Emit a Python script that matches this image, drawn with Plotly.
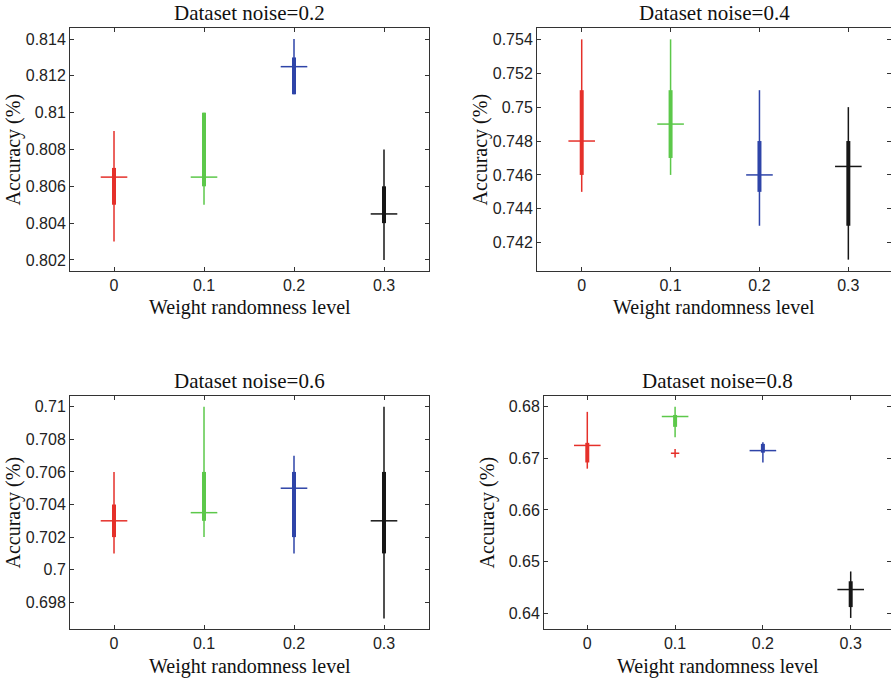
import plotly.graph_objects as go

# Weight randomness levels (x positions) and their labels
levels = [0, 0.1, 0.2, 0.3]
level_labels = ["0", "0.1", "0.2", "0.3"]
level_colors = ["#e5302a", "#5cc84a", "#2e44a8", "#161616"]

panel_titles = ["Dataset noise=0.2", "Dataset noise=0.4",
                "Dataset noise=0.6", "Dataset noise=0.8"]

# Dataset noise = 0.2
n02_lo = [0.803, 0.805, 0.811, 0.802]
n02_q1 = [0.805, 0.806, 0.811, 0.804]
n02_med = [0.8065, 0.8065, 0.8125, 0.8045]
n02_q3 = [0.807, 0.810, 0.813, 0.806]
n02_hi = [0.809, 0.810, 0.814, 0.808]

# Dataset noise = 0.4
n04_lo = [0.745, 0.746, 0.743, 0.741]
n04_q1 = [0.746, 0.747, 0.745, 0.743]
n04_med = [0.748, 0.749, 0.746, 0.7465]
n04_q3 = [0.751, 0.751, 0.748, 0.748]
n04_hi = [0.754, 0.754, 0.751, 0.750]

# Dataset noise = 0.6
n06_lo = [0.701, 0.702, 0.701, 0.697]
n06_q1 = [0.702, 0.703, 0.702, 0.701]
n06_med = [0.703, 0.7035, 0.705, 0.703]
n06_q3 = [0.704, 0.706, 0.706, 0.706]
n06_hi = [0.706, 0.710, 0.707, 0.710]

# Dataset noise = 0.8
n08_lo = [0.668, 0.6741, 0.6692, 0.6391]
n08_q1 = [0.6692, 0.6761, 0.6711, 0.6412]
n08_med = [0.6725, 0.6781, 0.6715, 0.6446]
n08_q3 = [0.673, 0.6784, 0.6728, 0.6462]
n08_hi = [0.679, 0.680, 0.6731, 0.6481]
n08_outlier_x = [0.1]
n08_outlier_y = [0.671]

# Y tick values / labels per panel
n02_yticks = [0.802, 0.804, 0.806, 0.808, 0.81, 0.812, 0.814]
n02_ylabels = ["0.802", "0.804", "0.806", "0.808", "0.81", "0.812", "0.814"]
n04_yticks = [0.742, 0.744, 0.746, 0.748, 0.75, 0.752, 0.754]
n04_ylabels = ["0.742", "0.744", "0.746", "0.748", "0.75", "0.752", "0.754"]
n06_yticks = [0.698, 0.7, 0.702, 0.704, 0.706, 0.708, 0.71]
n06_ylabels = ["0.698", "0.7", "0.702", "0.704", "0.706", "0.708", "0.71"]
n08_yticks = [0.64, 0.65, 0.66, 0.67, 0.68]
n08_ylabels = ["0.64", "0.65", "0.66", "0.67", "0.68"]

panels = [
    (n02_lo, n02_q1, n02_med, n02_q3, n02_hi, n02_yticks, n02_ylabels),
    (n04_lo, n04_q1, n04_med, n04_q3, n04_hi, n04_yticks, n04_ylabels),
    (n06_lo, n06_q1, n06_med, n06_q3, n06_hi, n06_yticks, n06_ylabels),
    (n08_lo, n08_q1, n08_med, n08_q3, n08_hi, n08_yticks, n08_ylabels),
]

W, H = 891, 680

# pixel geometry of each axes box: (left, right, top, bottom)
boxes = [(70, 429, 28, 271), (537, 891, 28, 271),
         (70, 429, 396, 629), (544, 891, 396, 629)]
x_ranges = [[-0.0489, 0.35], [-0.0503, 0.348], [-0.0489, 0.35], [-0.0493, 0.3459]]
y_ranges = [[0.8014, 0.8146], [0.74033, 0.75467], [0.69636, 0.71066], [0.63696, 0.68207]]

AXIS_COLOR = "#333333"
TICK_FONT = dict(family="Liberation Sans, Arial, sans-serif", size=16, color="#222222")
SERIF = "Liberation Serif, Times New Roman, serif"

fig = go.Figure()
layout = dict(width=W, height=H, margin=dict(l=0, r=0, t=0, b=0),
              paper_bgcolor="white", plot_bgcolor="white", showlegend=False)
annotations = []

for p, (lo, q1, med, q3, hi, yt, yl) in enumerate(panels):
    k = p + 1
    xa = "x" if k == 1 else f"x{k}"
    ya = "y" if k == 1 else f"y{k}"
    for i, lvl in enumerate(levels):
        c = level_colors[i]
        # whisker
        fig.add_trace(go.Scatter(x=[lvl, lvl], y=[lo[i], hi[i]], mode="lines",
                                 line=dict(color=c, width=1.5), xaxis=xa, yaxis=ya,
                                 hoverinfo="skip"))
        # box (compact style: thick segment)
        fig.add_trace(go.Scatter(x=[lvl, lvl], y=[q1[i], q3[i]], mode="lines",
                                 line=dict(color=c, width=4), xaxis=xa, yaxis=ya,
                                 hoverinfo="skip"))
        # median tick
        fig.add_trace(go.Scatter(x=[lvl], y=[med[i]], mode="markers",
                                 marker=dict(symbol="line-ew", size=19,
                                             line=dict(color=c, width=1.5)),
                                 xaxis=xa, yaxis=ya, hoverinfo="skip"))
    if k == 4:
        fig.add_trace(go.Scatter(x=n08_outlier_x, y=n08_outlier_y, mode="markers",
                                 marker=dict(symbol="cross-thin", size=6,
                                             line=dict(color=level_colors[0], width=1.5)),
                                 xaxis=xa, yaxis=ya, hoverinfo="skip"))

    left, right, top, bottom = boxes[p]
    axcommon = dict(showline=True, linecolor=AXIS_COLOR, linewidth=1, mirror="allticks",
                    ticks="inside", ticklen=4, tickcolor=AXIS_COLOR, tickwidth=1,
                    showgrid=False, zeroline=False, tickfont=TICK_FONT)
    layout[f"xaxis{'' if k == 1 else k}"] = dict(
        domain=[left / W, right / W], range=x_ranges[p], anchor=ya,
        tickvals=levels, ticktext=level_labels, **axcommon)
    layout[f"yaxis{'' if k == 1 else k}"] = dict(
        domain=[1 - bottom / H, 1 - top / H], range=y_ranges[p], anchor=xa,
        tickvals=yt, ticktext=yl, **axcommon)

    cx = (left + right) / 2
    cy = (top + bottom) / 2
    title_y = top - 15
    annotations.append(dict(text=panel_titles[p], x=cx / W, y=1 - title_y / H,
                            xref="paper", yref="paper", showarrow=False,
                            xanchor="center", yanchor="middle",
                            font=dict(family=SERIF, size=21, color="#111111")))
    annotations.append(dict(text="Weight randomness level", x=cx / W,
                            y=1 - (bottom + 37) / H, xref="paper", yref="paper",
                            showarrow=False, xanchor="center", yanchor="middle",
                            font=dict(family=SERIF, size=20, color="#111111")))
    annotations.append(dict(text="Accuracy (%)", x=(left - 57) / W, y=1 - cy / H,
                            xref="paper", yref="paper", showarrow=False, textangle=-90,
                            xanchor="center", yanchor="middle",
                            font=dict(family=SERIF, size=20, color="#111111")))

layout["annotations"] = annotations
fig.update_layout(**layout)
fig.write_html("out.html")
